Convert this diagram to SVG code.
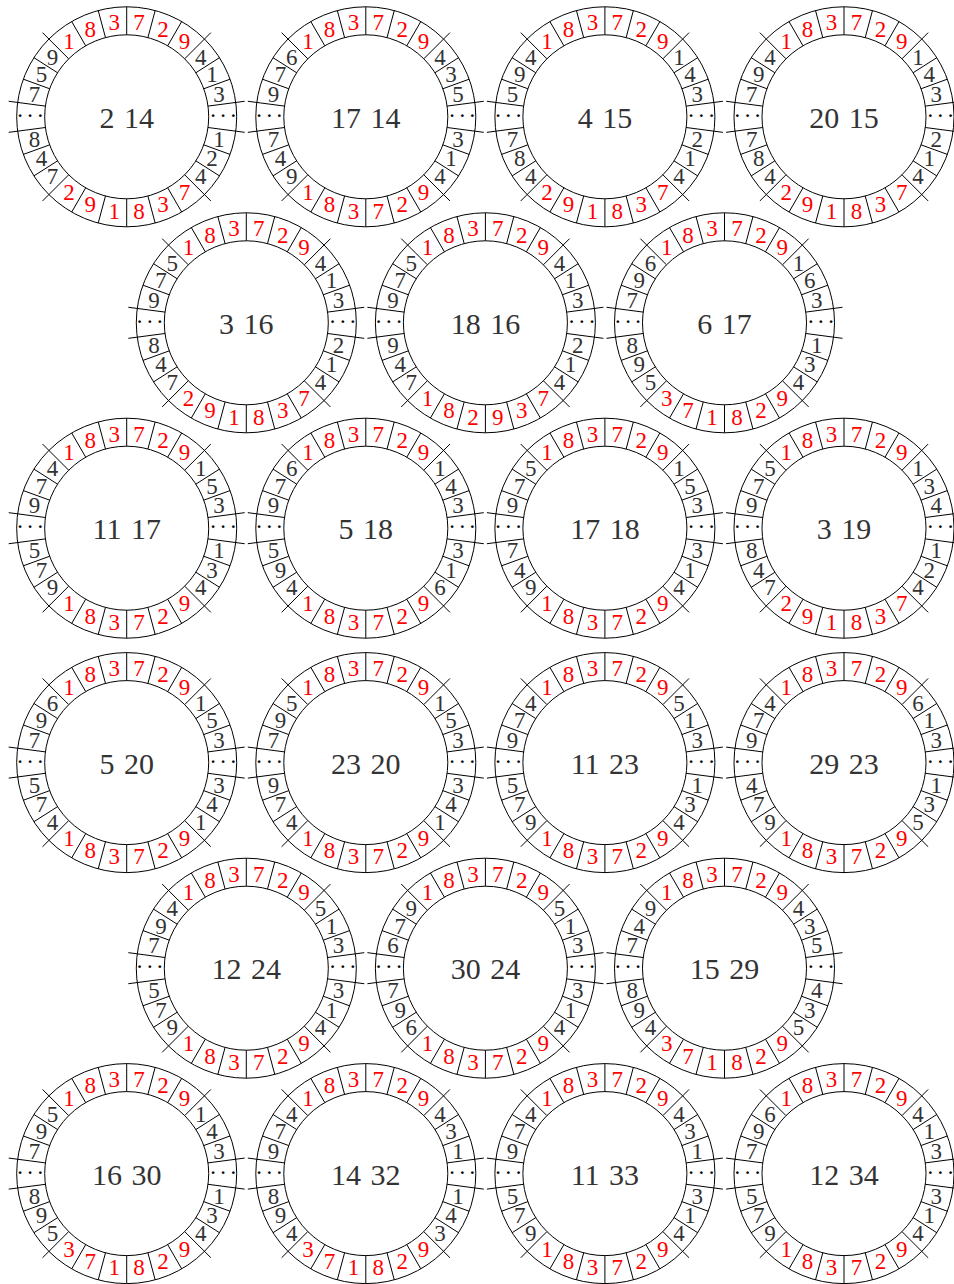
<svg xmlns="http://www.w3.org/2000/svg" width="954" height="1284" viewBox="0 0 954 1284">
<style>
text{font-family:"Liberation Serif","Times New Roman",serif;font-size:23px;text-anchor:middle;fill:#333}
.r text{fill:#f00}
text.c{font-size:30px;word-spacing:2px}
text.dt{font-size:23px;letter-spacing:2.5px;fill:#000}
.ln{fill:none;stroke:#000;stroke-width:1}
</style>
<defs>
<g id="ring">
<circle class="ln" r="82"/>
<circle class="ln" r="110"/>
<path class="ln" d="M0-82V-110M21.22-79.21L28.47-106.25M-21.22-79.21L-28.47-106.25M41-71.01L55-95.26M-41-71.01L-55-95.26M0 82V110M21.22 79.21L28.47 106.25M-21.22 79.21L-28.47 106.25M41 71.01L55 95.26M-41 71.01L-55 95.26M69.16-44.06L92.77-59.1M77.05-28.05L103.37-37.62M69.16 44.06L92.77 59.1M77.05 28.05L103.37 37.62M-69.16-44.06L-92.77-59.1M-77.05-28.05L-103.37-37.62M-69.16 44.06L-92.77 59.1M-77.05 28.05L-103.37 37.62M57.98-57.98L84.15-84.15M-57.98-57.98L-84.15-84.15M57.98 57.98L84.15 84.15M-57.98 57.98L-84.15 84.15M81.3-10.7L117.98-15.53M81.3 10.7L117.98 15.53M-81.3-10.7L-117.98-15.53M-81.3 10.7L-117.98 15.53"/>
<text class="dt" x="97.7" y="6">···</text>
<text class="dt" x="-95.3" y="6">···</text>
</g>
</defs>
<g id="connectors"/>

<g id="n1" transform="translate(126.7,116.8)"><use href="#ring"/><text class="c" y="11">2 14</text>
<g class="r"><text x="-57.8" y="-67.8">1</text><text x="-36.4" y="-80.2">8</text><text x="-12.4" y="-86.6">3</text><text x="12.4" y="-86.6">7</text><text x="36.4" y="-80.2">2</text><text x="57.8" y="-67.8">9</text>
<text x="-57.8" y="83">2</text><text x="-36.4" y="95.4">9</text><text x="-12.4" y="101.8">1</text><text x="12.4" y="101.8">8</text><text x="36.4" y="95.4">3</text><text x="57.8" y="83">7</text></g>
<text x="74.1" y="-51.9">4</text><text x="85.2" y="-34.4">1</text><text x="92.3" y="-15">3</text>
<text x="92.3" y="30.2">1</text><text x="85.2" y="49.6">2</text><text x="74.1" y="67.1">4</text>
<text x="-74.1" y="-51.9">9</text><text x="-85.2" y="-34.4">5</text><text x="-92.3" y="-15">7</text>
<text x="-92.3" y="30.2">8</text><text x="-85.2" y="49.6">4</text><text x="-74.1" y="67.1">7</text></g>

<g id="n2" transform="translate(365.8,116.8)"><use href="#ring"/><text class="c" y="11">17 14</text>
<g class="r"><text x="-57.8" y="-67.8">1</text><text x="-36.4" y="-80.2">8</text><text x="-12.4" y="-86.6">3</text><text x="12.4" y="-86.6">7</text><text x="36.4" y="-80.2">2</text><text x="57.8" y="-67.8">9</text>
<text x="-57.8" y="83">1</text><text x="-36.4" y="95.4">8</text><text x="-12.4" y="101.8">3</text><text x="12.4" y="101.8">7</text><text x="36.4" y="95.4">2</text><text x="57.8" y="83">9</text></g>
<text x="74.1" y="-51.9">4</text><text x="85.2" y="-34.4">3</text><text x="92.3" y="-15">5</text>
<text x="92.3" y="30.2">3</text><text x="85.2" y="49.6">1</text><text x="74.1" y="67.1">4</text>
<text x="-74.1" y="-51.9">6</text><text x="-85.2" y="-34.4">7</text><text x="-92.3" y="-15">9</text>
<text x="-92.3" y="30.2">7</text><text x="-85.2" y="49.6">4</text><text x="-74.1" y="67.1">9</text></g>

<g id="n3" transform="translate(604.9,116.8)"><use href="#ring"/><text class="c" y="11">4 15</text>
<g class="r"><text x="-57.8" y="-67.8">1</text><text x="-36.4" y="-80.2">8</text><text x="-12.4" y="-86.6">3</text><text x="12.4" y="-86.6">7</text><text x="36.4" y="-80.2">2</text><text x="57.8" y="-67.8">9</text>
<text x="-57.8" y="83">2</text><text x="-36.4" y="95.4">9</text><text x="-12.4" y="101.8">1</text><text x="12.4" y="101.8">8</text><text x="36.4" y="95.4">3</text><text x="57.8" y="83">7</text></g>
<text x="74.1" y="-51.9">1</text><text x="85.2" y="-34.4">4</text><text x="92.3" y="-15">3</text>
<text x="92.3" y="30.2">2</text><text x="85.2" y="49.6">1</text><text x="74.1" y="67.1">4</text>
<text x="-74.1" y="-51.9">4</text><text x="-85.2" y="-34.4">9</text><text x="-92.3" y="-15">5</text>
<text x="-92.3" y="30.2">7</text><text x="-85.2" y="49.6">8</text><text x="-74.1" y="67.1">4</text></g>

<g id="n4" transform="translate(844,116.8)"><use href="#ring"/><text class="c" y="11">20 15</text>
<g class="r"><text x="-57.8" y="-67.8">1</text><text x="-36.4" y="-80.2">8</text><text x="-12.4" y="-86.6">3</text><text x="12.4" y="-86.6">7</text><text x="36.4" y="-80.2">2</text><text x="57.8" y="-67.8">9</text>
<text x="-57.8" y="83">2</text><text x="-36.4" y="95.4">9</text><text x="-12.4" y="101.8">1</text><text x="12.4" y="101.8">8</text><text x="36.4" y="95.4">3</text><text x="57.8" y="83">7</text></g>
<text x="74.1" y="-51.9">1</text><text x="85.2" y="-34.4">4</text><text x="92.3" y="-15">3</text>
<text x="92.3" y="30.2">2</text><text x="85.2" y="49.6">1</text><text x="74.1" y="67.1">4</text>
<text x="-74.1" y="-51.9">4</text><text x="-85.2" y="-34.4">9</text><text x="-92.3" y="-15">7</text>
<text x="-92.3" y="30.2">7</text><text x="-85.2" y="49.6">8</text><text x="-74.1" y="67.1">4</text></g>

<g id="n5" transform="translate(246.3,322.8)"><use href="#ring"/><text class="c" y="11">3 16</text>
<g class="r"><text x="-57.8" y="-67.8">1</text><text x="-36.4" y="-80.2">8</text><text x="-12.4" y="-86.6">3</text><text x="12.4" y="-86.6">7</text><text x="36.4" y="-80.2">2</text><text x="57.8" y="-67.8">9</text>
<text x="-57.8" y="83">2</text><text x="-36.4" y="95.4">9</text><text x="-12.4" y="101.8">1</text><text x="12.4" y="101.8">8</text><text x="36.4" y="95.4">3</text><text x="57.8" y="83">7</text></g>
<text x="74.1" y="-51.9">4</text><text x="85.2" y="-34.4">1</text><text x="92.3" y="-15">3</text>
<text x="92.3" y="30.2">2</text><text x="85.2" y="49.6">1</text><text x="74.1" y="67.1">4</text>
<text x="-74.1" y="-51.9">5</text><text x="-85.2" y="-34.4">7</text><text x="-92.3" y="-15">9</text>
<text x="-92.3" y="30.2">8</text><text x="-85.2" y="49.6">4</text><text x="-74.1" y="67.1">7</text></g>

<g id="n6" transform="translate(485.4,322.8)"><use href="#ring"/><text class="c" y="11">18 16</text>
<g class="r"><text x="-57.8" y="-67.8">1</text><text x="-36.4" y="-80.2">8</text><text x="-12.4" y="-86.6">3</text><text x="12.4" y="-86.6">7</text><text x="36.4" y="-80.2">2</text><text x="57.8" y="-67.8">9</text>
<text x="-57.8" y="83">1</text><text x="-36.4" y="95.4">8</text><text x="-12.4" y="101.8">2</text><text x="12.4" y="101.8">9</text><text x="36.4" y="95.4">3</text><text x="57.8" y="83">7</text></g>
<text x="74.1" y="-51.9">4</text><text x="85.2" y="-34.4">1</text><text x="92.3" y="-15">3</text>
<text x="92.3" y="30.2">2</text><text x="85.2" y="49.6">1</text><text x="74.1" y="67.1">4</text>
<text x="-74.1" y="-51.9">5</text><text x="-85.2" y="-34.4">7</text><text x="-92.3" y="-15">9</text>
<text x="-92.3" y="30.2">9</text><text x="-85.2" y="49.6">4</text><text x="-74.1" y="67.1">7</text></g>

<g id="n7" transform="translate(724.5,322.8)"><use href="#ring"/><text class="c" y="11">6 17</text>
<g class="r"><text x="-57.8" y="-67.8">1</text><text x="-36.4" y="-80.2">8</text><text x="-12.4" y="-86.6">3</text><text x="12.4" y="-86.6">7</text><text x="36.4" y="-80.2">2</text><text x="57.8" y="-67.8">9</text>
<text x="-57.8" y="83">3</text><text x="-36.4" y="95.4">7</text><text x="-12.4" y="101.8">1</text><text x="12.4" y="101.8">8</text><text x="36.4" y="95.4">2</text><text x="57.8" y="83">9</text></g>
<text x="74.1" y="-51.9">1</text><text x="85.2" y="-34.4">6</text><text x="92.3" y="-15">3</text>
<text x="92.3" y="30.2">1</text><text x="85.2" y="49.6">3</text><text x="74.1" y="67.1">4</text>
<text x="-74.1" y="-51.9">6</text><text x="-85.2" y="-34.4">9</text><text x="-92.3" y="-15">7</text>
<text x="-92.3" y="30.2">8</text><text x="-85.2" y="49.6">9</text><text x="-74.1" y="67.1">5</text></g>

<g id="n8" transform="translate(126.7,528.2)"><use href="#ring"/><text class="c" y="11">11 17</text>
<g class="r"><text x="-57.8" y="-67.8">1</text><text x="-36.4" y="-80.2">8</text><text x="-12.4" y="-86.6">3</text><text x="12.4" y="-86.6">7</text><text x="36.4" y="-80.2">2</text><text x="57.8" y="-67.8">9</text>
<text x="-57.8" y="83">1</text><text x="-36.4" y="95.4">8</text><text x="-12.4" y="101.8">3</text><text x="12.4" y="101.8">7</text><text x="36.4" y="95.4">2</text><text x="57.8" y="83">9</text></g>
<text x="74.1" y="-51.9">1</text><text x="85.2" y="-34.4">5</text><text x="92.3" y="-15">3</text>
<text x="92.3" y="30.2">1</text><text x="85.2" y="49.6">3</text><text x="74.1" y="67.1">4</text>
<text x="-74.1" y="-51.9">4</text><text x="-85.2" y="-34.4">7</text><text x="-92.3" y="-15">9</text>
<text x="-92.3" y="30.2">5</text><text x="-85.2" y="49.6">7</text><text x="-74.1" y="67.1">9</text></g>

<g id="n9" transform="translate(365.8,528.2)"><use href="#ring"/><text class="c" y="11">5 18</text>
<g class="r"><text x="-57.8" y="-67.8">1</text><text x="-36.4" y="-80.2">8</text><text x="-12.4" y="-86.6">3</text><text x="12.4" y="-86.6">7</text><text x="36.4" y="-80.2">2</text><text x="57.8" y="-67.8">9</text>
<text x="-57.8" y="83">1</text><text x="-36.4" y="95.4">8</text><text x="-12.4" y="101.8">3</text><text x="12.4" y="101.8">7</text><text x="36.4" y="95.4">2</text><text x="57.8" y="83">9</text></g>
<text x="74.1" y="-51.9">1</text><text x="85.2" y="-34.4">4</text><text x="92.3" y="-15">3</text>
<text x="92.3" y="30.2">3</text><text x="85.2" y="49.6">1</text><text x="74.1" y="67.1">6</text>
<text x="-74.1" y="-51.9">6</text><text x="-85.2" y="-34.4">7</text><text x="-92.3" y="-15">9</text>
<text x="-92.3" y="30.2">5</text><text x="-85.2" y="49.6">9</text><text x="-74.1" y="67.1">4</text></g>

<g id="n10" transform="translate(604.9,528.2)"><use href="#ring"/><text class="c" y="11">17 18</text>
<g class="r"><text x="-57.8" y="-67.8">1</text><text x="-36.4" y="-80.2">8</text><text x="-12.4" y="-86.6">3</text><text x="12.4" y="-86.6">7</text><text x="36.4" y="-80.2">2</text><text x="57.8" y="-67.8">9</text>
<text x="-57.8" y="83">1</text><text x="-36.4" y="95.4">8</text><text x="-12.4" y="101.8">3</text><text x="12.4" y="101.8">7</text><text x="36.4" y="95.4">2</text><text x="57.8" y="83">9</text></g>
<text x="74.1" y="-51.9">1</text><text x="85.2" y="-34.4">5</text><text x="92.3" y="-15">3</text>
<text x="92.3" y="30.2">3</text><text x="85.2" y="49.6">1</text><text x="74.1" y="67.1">4</text>
<text x="-74.1" y="-51.9">5</text><text x="-85.2" y="-34.4">7</text><text x="-92.3" y="-15">9</text>
<text x="-92.3" y="30.2">7</text><text x="-85.2" y="49.6">4</text><text x="-74.1" y="67.1">9</text></g>

<g id="n11" transform="translate(844,528.2)"><use href="#ring"/><text class="c" y="11">3 19</text>
<g class="r"><text x="-57.8" y="-67.8">1</text><text x="-36.4" y="-80.2">8</text><text x="-12.4" y="-86.6">3</text><text x="12.4" y="-86.6">7</text><text x="36.4" y="-80.2">2</text><text x="57.8" y="-67.8">9</text>
<text x="-57.8" y="83">2</text><text x="-36.4" y="95.4">9</text><text x="-12.4" y="101.8">1</text><text x="12.4" y="101.8">8</text><text x="36.4" y="95.4">3</text><text x="57.8" y="83">7</text></g>
<text x="74.1" y="-51.9">1</text><text x="85.2" y="-34.4">3</text><text x="92.3" y="-15">4</text>
<text x="92.3" y="30.2">1</text><text x="85.2" y="49.6">2</text><text x="74.1" y="67.1">4</text>
<text x="-74.1" y="-51.9">5</text><text x="-85.2" y="-34.4">7</text><text x="-92.3" y="-15">9</text>
<text x="-92.3" y="30.2">8</text><text x="-85.2" y="49.6">4</text><text x="-74.1" y="67.1">7</text></g>

<g id="n12" transform="translate(126.7,762.6)"><use href="#ring"/><text class="c" y="11">5 20</text>
<g class="r"><text x="-57.8" y="-67.8">1</text><text x="-36.4" y="-80.2">8</text><text x="-12.4" y="-86.6">3</text><text x="12.4" y="-86.6">7</text><text x="36.4" y="-80.2">2</text><text x="57.8" y="-67.8">9</text>
<text x="-57.8" y="83">1</text><text x="-36.4" y="95.4">8</text><text x="-12.4" y="101.8">3</text><text x="12.4" y="101.8">7</text><text x="36.4" y="95.4">2</text><text x="57.8" y="83">9</text></g>
<text x="74.1" y="-51.9">1</text><text x="85.2" y="-34.4">5</text><text x="92.3" y="-15">3</text>
<text x="92.3" y="30.2">3</text><text x="85.2" y="49.6">4</text><text x="74.1" y="67.1">1</text>
<text x="-74.1" y="-51.9">6</text><text x="-85.2" y="-34.4">9</text><text x="-92.3" y="-15">7</text>
<text x="-92.3" y="30.2">5</text><text x="-85.2" y="49.6">7</text><text x="-74.1" y="67.1">4</text></g>

<g id="n13" transform="translate(365.8,762.6)"><use href="#ring"/><text class="c" y="11">23 20</text>
<g class="r"><text x="-57.8" y="-67.8">1</text><text x="-36.4" y="-80.2">8</text><text x="-12.4" y="-86.6">3</text><text x="12.4" y="-86.6">7</text><text x="36.4" y="-80.2">2</text><text x="57.8" y="-67.8">9</text>
<text x="-57.8" y="83">1</text><text x="-36.4" y="95.4">8</text><text x="-12.4" y="101.8">3</text><text x="12.4" y="101.8">7</text><text x="36.4" y="95.4">2</text><text x="57.8" y="83">9</text></g>
<text x="74.1" y="-51.9">1</text><text x="85.2" y="-34.4">5</text><text x="92.3" y="-15">3</text>
<text x="92.3" y="30.2">3</text><text x="85.2" y="49.6">4</text><text x="74.1" y="67.1">1</text>
<text x="-74.1" y="-51.9">5</text><text x="-85.2" y="-34.4">9</text><text x="-92.3" y="-15">7</text>
<text x="-92.3" y="30.2">9</text><text x="-85.2" y="49.6">7</text><text x="-74.1" y="67.1">4</text></g>

<g id="n14" transform="translate(604.9,762.6)"><use href="#ring"/><text class="c" y="11">11 23</text>
<g class="r"><text x="-57.8" y="-67.8">1</text><text x="-36.4" y="-80.2">8</text><text x="-12.4" y="-86.6">3</text><text x="12.4" y="-86.6">7</text><text x="36.4" y="-80.2">2</text><text x="57.8" y="-67.8">9</text>
<text x="-57.8" y="83">1</text><text x="-36.4" y="95.4">8</text><text x="-12.4" y="101.8">3</text><text x="12.4" y="101.8">7</text><text x="36.4" y="95.4">2</text><text x="57.8" y="83">9</text></g>
<text x="74.1" y="-51.9">5</text><text x="85.2" y="-34.4">1</text><text x="92.3" y="-15">3</text>
<text x="92.3" y="30.2">1</text><text x="85.2" y="49.6">3</text><text x="74.1" y="67.1">4</text>
<text x="-74.1" y="-51.9">4</text><text x="-85.2" y="-34.4">7</text><text x="-92.3" y="-15">9</text>
<text x="-92.3" y="30.2">5</text><text x="-85.2" y="49.6">7</text><text x="-74.1" y="67.1">9</text></g>

<g id="n15" transform="translate(844,762.6)"><use href="#ring"/><text class="c" y="11">29 23</text>
<g class="r"><text x="-57.8" y="-67.8">1</text><text x="-36.4" y="-80.2">8</text><text x="-12.4" y="-86.6">3</text><text x="12.4" y="-86.6">7</text><text x="36.4" y="-80.2">2</text><text x="57.8" y="-67.8">9</text>
<text x="-57.8" y="83">1</text><text x="-36.4" y="95.4">8</text><text x="-12.4" y="101.8">3</text><text x="12.4" y="101.8">7</text><text x="36.4" y="95.4">2</text><text x="57.8" y="83">9</text></g>
<text x="74.1" y="-51.9">6</text><text x="85.2" y="-34.4">1</text><text x="92.3" y="-15">3</text>
<text x="92.3" y="30.2">1</text><text x="85.2" y="49.6">3</text><text x="74.1" y="67.1">5</text>
<text x="-74.1" y="-51.9">4</text><text x="-85.2" y="-34.4">7</text><text x="-92.3" y="-15">9</text>
<text x="-92.3" y="30.2">4</text><text x="-85.2" y="49.6">7</text><text x="-74.1" y="67.1">9</text></g>

<g id="n16" transform="translate(246.3,968.2)"><use href="#ring"/><text class="c" y="11">12 24</text>
<g class="r"><text x="-57.8" y="-67.8">1</text><text x="-36.4" y="-80.2">8</text><text x="-12.4" y="-86.6">3</text><text x="12.4" y="-86.6">7</text><text x="36.4" y="-80.2">2</text><text x="57.8" y="-67.8">9</text>
<text x="-57.8" y="83">1</text><text x="-36.4" y="95.4">8</text><text x="-12.4" y="101.8">3</text><text x="12.4" y="101.8">7</text><text x="36.4" y="95.4">2</text><text x="57.8" y="83">9</text></g>
<text x="74.1" y="-51.9">5</text><text x="85.2" y="-34.4">1</text><text x="92.3" y="-15">3</text>
<text x="92.3" y="30.2">3</text><text x="85.2" y="49.6">1</text><text x="74.1" y="67.1">4</text>
<text x="-74.1" y="-51.9">4</text><text x="-85.2" y="-34.4">9</text><text x="-92.3" y="-15">7</text>
<text x="-92.3" y="30.2">5</text><text x="-85.2" y="49.6">7</text><text x="-74.1" y="67.1">9</text></g>

<g id="n17" transform="translate(485.4,968.2)"><use href="#ring"/><text class="c" y="11">30 24</text>
<g class="r"><text x="-57.8" y="-67.8">1</text><text x="-36.4" y="-80.2">8</text><text x="-12.4" y="-86.6">3</text><text x="12.4" y="-86.6">7</text><text x="36.4" y="-80.2">2</text><text x="57.8" y="-67.8">9</text>
<text x="-57.8" y="83">1</text><text x="-36.4" y="95.4">8</text><text x="-12.4" y="101.8">3</text><text x="12.4" y="101.8">7</text><text x="36.4" y="95.4">2</text><text x="57.8" y="83">9</text></g>
<text x="74.1" y="-51.9">5</text><text x="85.2" y="-34.4">1</text><text x="92.3" y="-15">3</text>
<text x="92.3" y="30.2">3</text><text x="85.2" y="49.6">1</text><text x="74.1" y="67.1">4</text>
<text x="-74.1" y="-51.9">9</text><text x="-85.2" y="-34.4">7</text><text x="-92.3" y="-15">6</text>
<text x="-92.3" y="30.2">7</text><text x="-85.2" y="49.6">9</text><text x="-74.1" y="67.1">6</text></g>

<g id="n18" transform="translate(724.5,968.2)"><use href="#ring"/><text class="c" y="11">15 29</text>
<g class="r"><text x="-57.8" y="-67.8">1</text><text x="-36.4" y="-80.2">8</text><text x="-12.4" y="-86.6">3</text><text x="12.4" y="-86.6">7</text><text x="36.4" y="-80.2">2</text><text x="57.8" y="-67.8">9</text>
<text x="-57.8" y="83">3</text><text x="-36.4" y="95.4">7</text><text x="-12.4" y="101.8">1</text><text x="12.4" y="101.8">8</text><text x="36.4" y="95.4">2</text><text x="57.8" y="83">9</text></g>
<text x="74.1" y="-51.9">4</text><text x="85.2" y="-34.4">3</text><text x="92.3" y="-15">5</text>
<text x="92.3" y="30.2">4</text><text x="85.2" y="49.6">3</text><text x="74.1" y="67.1">5</text>
<text x="-74.1" y="-51.9">9</text><text x="-85.2" y="-34.4">4</text><text x="-92.3" y="-15">7</text>
<text x="-92.3" y="30.2">8</text><text x="-85.2" y="49.6">9</text><text x="-74.1" y="67.1">4</text></g>

<g id="n19" transform="translate(126.7,1173.6)"><use href="#ring"/><text class="c" y="11">16 30</text>
<g class="r"><text x="-57.8" y="-67.8">1</text><text x="-36.4" y="-80.2">8</text><text x="-12.4" y="-86.6">3</text><text x="12.4" y="-86.6">7</text><text x="36.4" y="-80.2">2</text><text x="57.8" y="-67.8">9</text>
<text x="-57.8" y="83">3</text><text x="-36.4" y="95.4">7</text><text x="-12.4" y="101.8">1</text><text x="12.4" y="101.8">8</text><text x="36.4" y="95.4">2</text><text x="57.8" y="83">9</text></g>
<text x="74.1" y="-51.9">1</text><text x="85.2" y="-34.4">4</text><text x="92.3" y="-15">3</text>
<text x="92.3" y="30.2">1</text><text x="85.2" y="49.6">3</text><text x="74.1" y="67.1">4</text>
<text x="-74.1" y="-51.9">5</text><text x="-85.2" y="-34.4">9</text><text x="-92.3" y="-15">7</text>
<text x="-92.3" y="30.2">8</text><text x="-85.2" y="49.6">9</text><text x="-74.1" y="67.1">5</text></g>

<g id="n20" transform="translate(365.8,1173.6)"><use href="#ring"/><text class="c" y="11">14 32</text>
<g class="r"><text x="-57.8" y="-67.8">1</text><text x="-36.4" y="-80.2">8</text><text x="-12.4" y="-86.6">3</text><text x="12.4" y="-86.6">7</text><text x="36.4" y="-80.2">2</text><text x="57.8" y="-67.8">9</text>
<text x="-57.8" y="83">3</text><text x="-36.4" y="95.4">7</text><text x="-12.4" y="101.8">1</text><text x="12.4" y="101.8">8</text><text x="36.4" y="95.4">2</text><text x="57.8" y="83">9</text></g>
<text x="74.1" y="-51.9">4</text><text x="85.2" y="-34.4">3</text><text x="92.3" y="-15">1</text>
<text x="92.3" y="30.2">1</text><text x="85.2" y="49.6">4</text><text x="74.1" y="67.1">3</text>
<text x="-74.1" y="-51.9">4</text><text x="-85.2" y="-34.4">7</text><text x="-92.3" y="-15">9</text>
<text x="-92.3" y="30.2">8</text><text x="-85.2" y="49.6">9</text><text x="-74.1" y="67.1">4</text></g>

<g id="n21" transform="translate(604.9,1173.6)"><use href="#ring"/><text class="c" y="11">11 33</text>
<g class="r"><text x="-57.8" y="-67.8">1</text><text x="-36.4" y="-80.2">8</text><text x="-12.4" y="-86.6">3</text><text x="12.4" y="-86.6">7</text><text x="36.4" y="-80.2">2</text><text x="57.8" y="-67.8">9</text>
<text x="-57.8" y="83">1</text><text x="-36.4" y="95.4">8</text><text x="-12.4" y="101.8">3</text><text x="12.4" y="101.8">7</text><text x="36.4" y="95.4">2</text><text x="57.8" y="83">9</text></g>
<text x="74.1" y="-51.9">4</text><text x="85.2" y="-34.4">3</text><text x="92.3" y="-15">1</text>
<text x="92.3" y="30.2">3</text><text x="85.2" y="49.6">1</text><text x="74.1" y="67.1">4</text>
<text x="-74.1" y="-51.9">4</text><text x="-85.2" y="-34.4">7</text><text x="-92.3" y="-15">9</text>
<text x="-92.3" y="30.2">5</text><text x="-85.2" y="49.6">7</text><text x="-74.1" y="67.1">9</text></g>

<g id="n22" transform="translate(844,1173.6)"><use href="#ring"/><text class="c" y="11">12 34</text>
<g class="r"><text x="-57.8" y="-67.8">1</text><text x="-36.4" y="-80.2">8</text><text x="-12.4" y="-86.6">3</text><text x="12.4" y="-86.6">7</text><text x="36.4" y="-80.2">2</text><text x="57.8" y="-67.8">9</text>
<text x="-57.8" y="83">1</text><text x="-36.4" y="95.4">8</text><text x="-12.4" y="101.8">3</text><text x="12.4" y="101.8">7</text><text x="36.4" y="95.4">2</text><text x="57.8" y="83">9</text></g>
<text x="74.1" y="-51.9">4</text><text x="85.2" y="-34.4">1</text><text x="92.3" y="-15">3</text>
<text x="92.3" y="30.2">3</text><text x="85.2" y="49.6">1</text><text x="74.1" y="67.1">4</text>
<text x="-74.1" y="-51.9">6</text><text x="-85.2" y="-34.4">9</text><text x="-92.3" y="-15">7</text>
<text x="-92.3" y="30.2">5</text><text x="-85.2" y="49.6">7</text><text x="-74.1" y="67.1">9</text></g>
</svg>
